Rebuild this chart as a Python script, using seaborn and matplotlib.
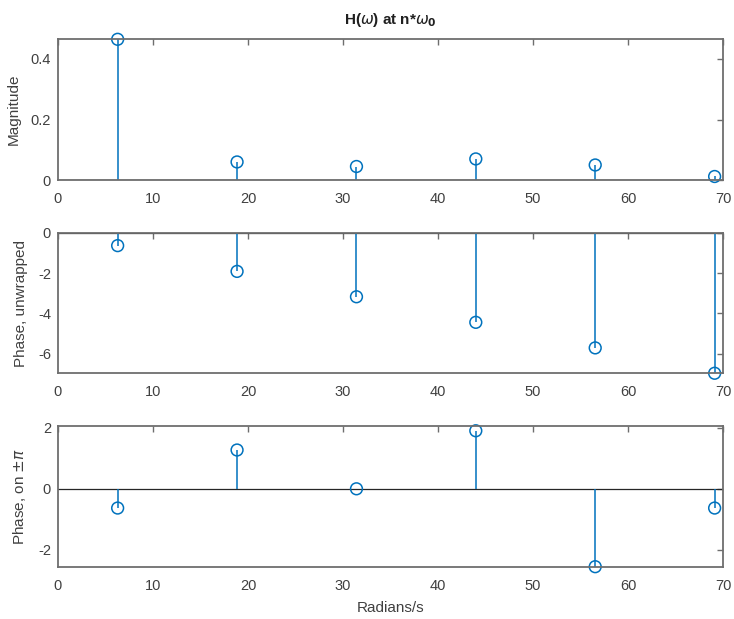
import numpy as np
import pandas as pd
import seaborn as sns
import matplotlib.pyplot as plt

# harmonic frequencies n*w0 (rad/s)
freqs = [6.28, 18.85, 31.42, 43.98, 56.55, 69.12]
magnitude = [0.465, 0.060, 0.045, 0.070, 0.050, 0.012]
phase_unwrapped = [-0.64, -1.92, -3.18, -4.45, -5.72, -6.98]
phase_wrapped = [-0.63, 1.27, 0.0, 1.90, -2.55, -0.63]

stem_color = '#0072BD'
axis_color = '#6e6e6e'
text_color = '#404040'

sns.set_theme(style='white')
plt.rcParams['font.family'] = ['Liberation Sans', 'DejaVu Sans']
plt.rcParams['mathtext.fontset'] = 'dejavusans'

fig = plt.figure(figsize=(7.34, 6.19), dpi=100)
boxes = [
    [0.079, 0.709, 0.906, 0.228],
    [0.079, 0.397, 0.906, 0.227],
    [0.079, 0.0845, 0.906, 0.2265],
]
panels = [
    (magnitude, 'Magnitude', (0, 0.466), [0, 0.2, 0.4], ['0', '0.2', '0.4']),
    (phase_unwrapped, 'Phase, unwrapped', (-6.98, 0), [-6, -4, -2, 0], ['-6', '-4', '-2', '0']),
    (phase_wrapped, r'Phase, on $\pm\pi$', (-2.55, 2.04), [-2, 0, 2], ['-2', '0', '2']),
]

axes = []
for box, (vals, label, ylim, yt, ytl) in zip(boxes, panels):
    ax = fig.add_axes(box)
    df = pd.DataFrame({'w': freqs, 'v': vals})
    ax.vlines(df['w'], 0, df['v'], color=stem_color, lw=1.1, zorder=2)
    ax.axhline(0, color='#262626', lw=0.9, zorder=1)
    sns.scatterplot(data=df, x='w', y='v', ax=ax, marker='o', s=72,
                    facecolors='none', edgecolor=stem_color, linewidth=1.1,
                    zorder=3, clip_on=False, legend=False)
    ax.set_xlim(0, 70)
    ax.set_ylim(*ylim)
    ax.set_xticks(range(0, 80, 10))
    ax.set_yticks(yt)
    ax.set_yticklabels(ytl)
    ax.set_ylabel(label, fontsize=11, color=text_color, labelpad=7)
    ax.set_xlabel('')
    ax.tick_params(direction='in', length=4, width=1, color=axis_color,
                   labelcolor=text_color, labelsize=10.5, top=True, right=True)
    ax.tick_params(axis='x', pad=8.5)
    ax.tick_params(axis='y', pad=5)
    for sp in ax.spines.values():
        sp.set_color(axis_color)
        sp.set_linewidth(1.3)
        sp.set_zorder(4)
    axes.append(ax)

axes[0].set_title(r'H($\omega$) at n*$\omega_\mathbf{0}$', fontsize=11,
                  fontweight='bold', color='#202020', pad=11)
axes[2].set_xlabel('Radians/s', fontsize=11, color=text_color, labelpad=6)

fig.savefig('out.png', dpi=100)
